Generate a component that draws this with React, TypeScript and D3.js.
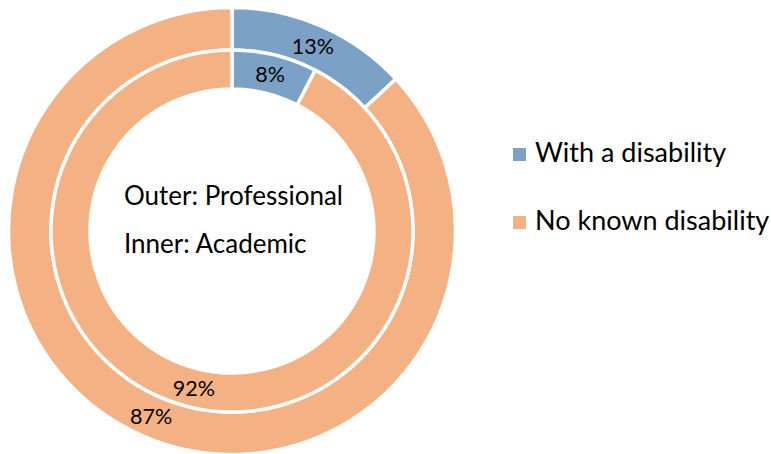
import React from "react";
import * as d3 from "d3";

const categories = ["With a disability", "No known disability"];
const outerValues = [13.1, 86.9]; // Professional
const innerValues = [7.6, 92.4]; // Academic
const colors = ["#7CA1C6", "#F4B183"];
const centerLines = ["Outer: Professional", "Inner: Academic"];

const W = 771;
const H = 454;
const cx = 232;
const cy = 231;
const FONT = "Lato, 'Open Sans', sans-serif";

export default function App() {
  const pie = d3.pie<number>().sort(null).value((d) => d);
  const outerArc = d3.arc<d3.PieArcDatum<number>>().innerRadius(181).outerRadius(223.5);
  const innerArc = d3.arc<d3.PieArcDatum<number>>().innerRadius(142).outerRadius(181);
  const fmt = (v: number) => d3.format(".0f")(v) + "%";
  const rings = [
    { arcs: pie(outerValues), arc: outerArc },
    { arcs: pie(innerValues), arc: innerArc },
  ];
  return (
    <svg
      width={W}
      height={H}
      style={{ position: "absolute", left: 0, top: 0, background: "#fff" }}
      fontFamily={FONT}
    >
      <g transform={`translate(${cx},${cy})`}>
        {rings.map((r, ri) =>
          r.arcs.map((a, i) => (
            <path
              key={`${ri}-${i}`}
              d={r.arc(a) || ""}
              fill={colors[i]}
              stroke="#fff"
              strokeWidth={3.5}
            />
          ))
        )}
        {rings.map((r, ri) =>
          r.arcs.map((a, i) => {
            const [x, y] = r.arc.centroid(a);
            return (
              <text
                key={`l${ri}-${i}`}
                x={x}
                y={y}
                textAnchor="middle"
                dominantBaseline="central"
                fontSize={21.5}
                fill="#000"
              >
                {fmt(a.data)}
              </text>
            );
          })
        )}
      </g>
      {centerLines.map((t, i) => (
        <text key={t} x={124} y={205 + i * 48} fontSize={26} fill="#000">
          {t}
        </text>
      ))}
      {categories.map((c, i) => (
        <g key={c} transform={`translate(513,${148 + i * 68})`}>
          <rect width={13} height={13} fill={colors[i]} />
          <text x={22} y={14} fontSize={27} fill="#000">
            {c}
          </text>
        </g>
      ))}
    </svg>
  );
}
